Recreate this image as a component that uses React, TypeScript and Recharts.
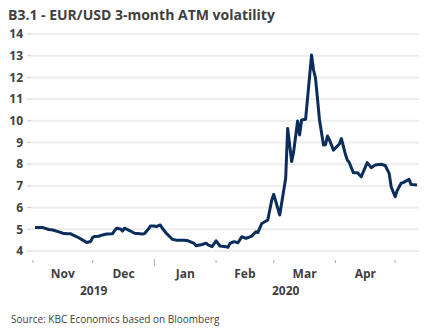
import React from 'react';
import { LineChart, Line, XAxis, YAxis, CartesianGrid } from 'recharts';

// days since 1 Nov 2019
const days = [
  1, 5, 8, 10, 13, 15, 17, 19, 20, 23, 25, 27, 29, 30, 31, 33, 35, 37, 40, 41,
  42, 44, 45, 46, 49, 51, 55, 56, 58, 59, 61, 62, 64, 65, 67, 70, 72, 76, 78, 81,
  82, 85, 87, 88, 90, 92, 94, 97, 98, 99, 101, 103, 105, 107, 110, 112, 113, 115, 118, 120,
  121, 124, 127, 128, 130, 131, 133, 134, 135, 137, 140, 141, 142, 144, 146, 147, 148, 149, 151, 153,
  154, 155, 157, 158, 159, 161, 163, 165, 166, 168, 170, 172, 175, 177, 179, 180, 182, 183, 185, 186,
  189, 190, 193,
];
const vol = [
  5.08, 5.08, 4.99, 4.97, 4.88, 4.82, 4.8, 4.79, 4.74, 4.61, 4.5, 4.39, 4.44, 4.63, 4.67, 4.68, 4.74, 4.78, 4.8, 4.94,
  5.05, 5.01, 4.92, 5.05, 4.92, 4.82, 4.78, 4.8, 5.01, 5.15, 5.15, 5.12, 5.2, 5.05, 4.82, 4.54, 4.5, 4.5, 4.47, 4.35,
  4.24, 4.3, 4.36, 4.28, 4.2, 4.47, 4.23, 4.2, 4.17, 4.35, 4.43, 4.38, 4.66, 4.58, 4.69, 4.89, 4.85, 5.27, 5.43, 6.35,
  6.61, 5.66, 7.35, 9.65, 8.12, 8.58, 9.99, 9.35, 10.04, 10.07, 13.03, 12.34, 11.96, 10.04, 8.88, 8.9, 9.3, 9.12, 8.65, 8.84,
  8.93, 9.18, 8.46, 8.19, 8.07, 7.61, 7.61, 7.42, 7.65, 8.07, 7.84, 7.96, 8.0, 7.94, 7.58, 6.96, 6.5, 6.78, 7.12, 7.15,
  7.3, 7.07, 7.04,
];

const monthStarts = [0, 30, 61, 92, 121, 152, 182];
const monthNames = ['Nov', 'Dec', 'Jan', 'Feb', 'Mar', 'Apr'];
const years = ['2019', '2020'];
const yearStart = [0, 61];
const yTicks = [4, 5, 6, 7, 8, 9, 10, 11, 12, 13, 14];

const data = days.map((d, i) => ({ d, v: vol[i] }));

const lastDay = days[days.length - 1];
const labelAt: Record<number, { kind: string; text?: string }> = {};
monthStarts.forEach((m) => (labelAt[m] = { kind: m === 61 ? 'year' : 'month' }));
monthNames.forEach((n, i) => {
  labelAt[(monthStarts[i] + monthStarts[i + 1]) / 2 + 0.01] = { kind: 'label', text: n };
});
years.forEach((y, i) => {
  const end = i + 1 < yearStart.length ? yearStart[i + 1] : lastDay;
  labelAt[(yearStart[i] + end) / 2 + 0.02] = { kind: 'yearLabel', text: y };
});
const xTicks = Object.keys(labelAt).map(Number).sort((a, b) => a - b);

const txt = '#404040';
const font = '"Open Sans", sans-serif';

const XTick = (props: any) => {
  const { x, y, payload } = props;
  const info = labelAt[payload.value];
  if (!info) return null;
  if (info.kind === 'month') {
    return <line x1={x} x2={x} y1={y + 9} y2={y + 12} stroke="#aaa" />;
  }
  if (info.kind === 'year') {
    return <line x1={x} x2={x} y1={y + 8} y2={y + 15} stroke="#aaa" />;
  }
  const dy = info.kind === 'label' ? 27 : 44;
  return (
    <text x={x} y={y + dy} textAnchor="middle" fill={txt} fontSize={12} fontWeight={700} fontFamily={font}>
      {info.text}
    </text>
  );
};

export default function App() {
  return (
    <div style={{ position: 'absolute', left: 0, top: 0, width: 434, height: 334, background: '#fff', fontFamily: font }}>
      <div style={{ position: 'absolute', left: 8, top: 5, fontSize: 14, fontWeight: 700, color: txt, whiteSpace: 'nowrap' }}>
        B3.1 - EUR/USD 3-month ATM volatility
      </div>
      <LineChart width={434} height={300} data={data} margin={{ top: 34, right: 15, bottom: 0, left: 0 }}>
        <CartesianGrid vertical={false} stroke="#ededed" strokeWidth={2} />
        <YAxis
          domain={[4, 14]}
          ticks={yTicks}
          width={31}
          axisLine={false}
          tickSize={4}
          tickMargin={4}
          tickLine={{ stroke: '#ccc' }}
          tick={{ fill: txt, fontSize: 12, fontWeight: 700, fontFamily: font }}
          interval={0}
        />
        <XAxis
          dataKey="d"
          type="number"
          domain={[-1, 194]}
          ticks={xTicks}
          interval={0}
          height={49}
          axisLine={false}
          tickLine={false}
          tickSize={0}
          tickMargin={0}
          tick={<XTick />}
        />
        <Line
          type="linear"
          dataKey="v"
          stroke="#0b2d5b"
          strokeWidth={3}
          dot={false}
          strokeLinejoin="round"
          isAnimationActive={false}
        />
      </LineChart>
      <div style={{ position: 'absolute', left: 11, top: 312, fontSize: 10, color: txt, whiteSpace: 'nowrap' }}>
        Source: KBC Economics based on Bloomberg
      </div>
    </div>
  );
}
